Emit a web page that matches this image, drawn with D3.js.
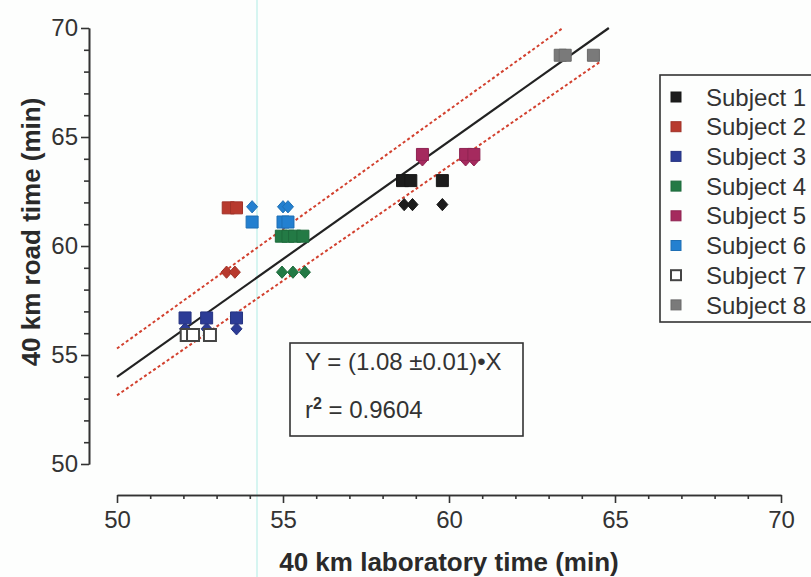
<!DOCTYPE html>
<html>
<head>
<meta charset="utf-8">
<script src="https://cdn.jsdelivr.net/npm/d3@7"></script>
<style>
  body { margin: 0; background: #fdfefd; }
  svg { font-family: Arial, "Liberation Sans", sans-serif; }
  .axis path, .axis line { stroke: #333; stroke-width: 1.6; }
  .axis text { font-size: 24px; fill: #333; }
</style>
</head>
<body>
<div id="chart"></div>
<script>
// subjects and their times (min): lab time per point, one road time per subject
var subjects = ["Subject 1", "Subject 2", "Subject 3", "Subject 4", "Subject 5", "Subject 6", "Subject 7", "Subject 8"];
var colors = ["#1c1c1c", "#b83a2e", "#2c3c96", "#237a45", "#a52a5e", "#2380d0", "#ffffff", "#7a7a7a"];

var squareLab = [
    [58.6, 58.85, 59.8],
    [53.35, 53.6],
    [52.05, 52.7, 53.6],
    [54.95, 55.15, 55.35, 55.6],
    [59.2, 60.5, 60.75],
    [54.07, 55.0, 55.15],
    [52.1, 52.29, 52.8],
    [63.35, 63.5, 64.35]
];
var squareRoad = [63.0, 61.75, 56.7, 60.45, 64.2, 61.1, 55.92, 68.75];

var diamondLab = [
    [58.65, 58.9, 59.8],
    [53.3, 53.55],
    [52.05, 52.7, 53.6],
    [54.97, 55.3, 55.66],
    [59.2, 60.5, 60.75],
    [54.07, 55.0, 55.15],
    [],
    []
];
var diamondRoad = [61.9, 58.8, 56.2, 58.8, 63.95, 61.8, null, null];

// regression Y = 1.08 X and the dashed band
var slope = 1.08;
var upperBand = [[50, 55.3], [63.43, 70]];
var lowerBand = [[50, 53.15], [64.55, 68.45]];

var xTicks = [50, 55, 60, 65, 70];
var yTicks = [50, 55, 60, 65, 70];

var svg = d3.select("#chart")
    .append("svg")
    .attr("width", 811)
    .attr("height", 577);

var x = d3.scaleLinear().domain([50, 70]).range([117, 781]);
var y = d3.scaleLinear().domain([50, 70]).range([464, 28]);

// faint scanner streak
svg.append("line")
    .attr("x1", 257).attr("x2", 257)
    .attr("y1", 0).attr("y2", 577)
    .attr("stroke", "#c8f2ec")
    .attr("stroke-width", 1.5);

// Y axis (detached from x axis)
var minor = d3.range(50, 71).filter(function (d) { return d % 5 !== 0; });

svg.append("g")
    .attr("class", "axis")
    .attr("transform", "translate(89,0)")
    .call(d3.axisLeft(y).tickValues(minor).tickSize(5).tickSizeOuter(0).tickFormat(""));
svg.append("g")
    .attr("class", "axis")
    .attr("transform", "translate(89,0)")
    .call(d3.axisLeft(y).tickValues(yTicks).tickSize(8).tickSizeOuter(0).tickPadding(3));

// X axis
svg.append("g")
    .attr("class", "axis")
    .attr("transform", "translate(0,495)")
    .call(d3.axisBottom(x).tickValues(minor).tickSize(4).tickSizeOuter(0).tickFormat(""));
svg.append("g")
    .attr("class", "axis")
    .attr("transform", "translate(0,495)")
    .call(d3.axisBottom(x).tickValues(xTicks).tickSize(8).tickSizeOuter(0).tickPadding(8));

// axis titles
svg.append("text")
    .attr("x", 449)
    .attr("y", 571)
    .attr("text-anchor", "middle")
    .style("font-size", "26px")
    .style("font-weight", "bold")
    .style("fill", "#2a2a2a")
    .text("40 km laboratory time (min)");

svg.append("text")
    .attr("transform", "translate(40,232) rotate(-90)")
    .attr("text-anchor", "middle")
    .style("font-size", "26px")
    .style("font-weight", "bold")
    .style("fill", "#2a2a2a")
    .text("40 km road time (min)");

// lines
var line = d3.line()
    .x(function (d) { return x(d[0]); })
    .y(function (d) { return y(d[1]); });

svg.append("path")
    .datum(upperBand)
    .attr("fill", "none")
    .attr("stroke", "#d2402e")
    .attr("stroke-width", 2)
    .attr("stroke-dasharray", "3,2.5")
    .attr("d", line);

svg.append("path")
    .datum(lowerBand)
    .attr("fill", "none")
    .attr("stroke", "#d2402e")
    .attr("stroke-width", 2)
    .attr("stroke-dasharray", "3,2.5")
    .attr("d", line);

svg.append("path")
    .datum([[50, 50 * slope], [70 / slope, 70]])
    .attr("fill", "none")
    .attr("stroke", "#222")
    .attr("stroke-width", 2.2)
    .attr("d", line);

// points
var diamondShape = {
    draw: function (ctx, size) {
        var h = Math.sqrt(size) / 2, w = h * 0.9;
        ctx.moveTo(0, -h); ctx.lineTo(w, 0); ctx.lineTo(0, h); ctx.lineTo(-w, 0); ctx.closePath();
    }
};

var diamonds = [], squares = [];
subjects.forEach(function (s, i) {
    diamondLab[i].forEach(function (v) { diamonds.push({ i: i, lab: v, road: diamondRoad[i] }); });
    squareLab[i].forEach(function (v) { squares.push({ i: i, lab: v, road: squareRoad[i] }); });
});

function stroke(i) { return i === 6 ? "#444" : d3.color(colors[i]).darker(0.4); }

svg.append("g").selectAll("path")
    .data(diamonds)
    .enter().append("path")
    .attr("transform", function (d) { return "translate(" + x(d.lab) + "," + y(d.road) + ")"; })
    .attr("d", d3.symbol(diamondShape, 150))
    .attr("fill", function (d) { return colors[d.i]; })
    .attr("stroke", function (d) { return stroke(d.i); })
    .attr("stroke-width", 1);

svg.append("g").selectAll("path")
    .data(squares)
    .enter().append("path")
    .attr("transform", function (d) { return "translate(" + x(d.lab) + "," + y(d.road) + ")"; })
    .attr("d", d3.symbol(d3.symbolSquare, 144))
    .attr("fill", function (d) { return colors[d.i]; })
    .attr("stroke", function (d) { return stroke(d.i); })
    .attr("stroke-width", function (d) { return d.i === 6 ? 2 : 1; });

// equation box
var eq = svg.append("g");
eq.append("rect")
    .attr("x", 290).attr("y", 343)
    .attr("width", 233).attr("height", 93)
    .attr("fill", "none")
    .attr("stroke", "#333")
    .attr("stroke-width", 1.6);
eq.append("text")
    .attr("x", 305).attr("y", 370)
    .style("font-size", "24px").style("fill", "#333")
    .text("Y = (1.08 \u00b10.01)\u2022X");
var r2 = eq.append("text")
    .attr("x", 305).attr("y", 418)
    .style("font-size", "24px").style("fill", "#333");
r2.append("tspan").text("r");
r2.append("tspan").attr("dy", -9).style("font-size", "16px").style("font-weight", "bold").text("2");
r2.append("tspan").attr("dy", 9).text(" = 0.9604");

// legend
var legend = svg.append("g");
legend.append("rect")
    .attr("x", 660).attr("y", 75)
    .attr("width", 170).attr("height", 247)
    .attr("fill", "none")
    .attr("stroke", "#333")
    .attr("stroke-width", 1.6);

var rows = legend.selectAll("g.row")
    .data(subjects)
    .enter().append("g")
    .attr("class", "row")
    .attr("transform", function (d, i) { return "translate(676," + (97 + i * 29.7) + ")"; });

rows.append("rect")
    .attr("x", -5).attr("y", -5)
    .attr("width", 10).attr("height", 10)
    .attr("fill", function (d, i) { return colors[i]; })
    .attr("stroke", function (d, i) { return stroke(i); })
    .attr("stroke-width", function (d, i) { return i === 6 ? 2 : 1; });

rows.append("text")
    .attr("x", 30)
    .attr("dy", "0.36em")
    .style("font-size", "24px")
    .style("fill", "#333")
    .text(function (d) { return d; });
</script>
</body>
</html>
